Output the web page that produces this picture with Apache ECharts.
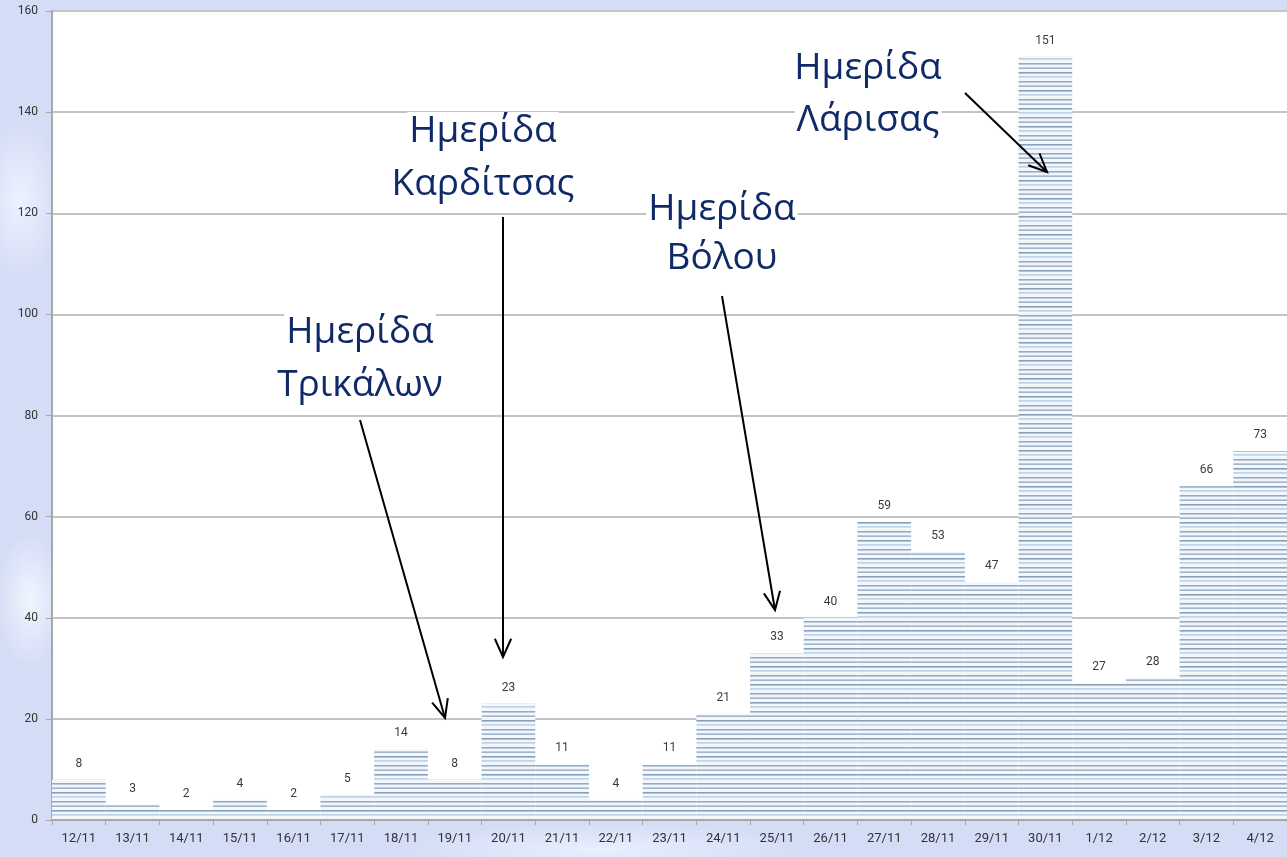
<!DOCTYPE html>
<html>
<head>
<meta charset="utf-8">
<script src="https://cdn.jsdelivr.net/npm/echarts@6/dist/echarts.min.js"></script>
<style>
html,body{margin:0;padding:0;width:1287px;height:857px;overflow:hidden;
background:
 radial-gradient(ellipse 60px 120px at 20px 200px, rgba(240,244,255,0.9), rgba(240,244,255,0) 70%),
 radial-gradient(ellipse 50px 100px at 30px 600px, rgba(245,248,255,0.9), rgba(245,248,255,0) 70%),
 radial-gradient(ellipse 300px 40px at 600px 850px, rgba(240,244,255,0.8), rgba(240,244,255,0) 70%),
 #d4dcf6;}
#c{width:1287px;height:857px;}
</style>
</head>
<body>
<div id="c"></div>
<script>
const categories = ['12/11','13/11','14/11','15/11','16/11','17/11','18/11','19/11','20/11','21/11','22/11','23/11','24/11','25/11','26/11','27/11','28/11','29/11','30/11','1/12','2/12','3/12','4/12'];
const visits = [8,3,2,4,2,5,14,8,23,11,4,11,21,33,40,59,53,47,151,27,28,66,73];
const yTicks = {min:0, max:160, interval:20};
const notes = [
  {lines:['Ημερίδα','Τρικάλων'], x:360, y:[332,385], from:[360,420], to:[445,718]},
  {lines:['Ημερίδα','Καρδίτσας'], x:483, y:[131,184], from:[503,217], to:[503,657]},
  {lines:['Ημερίδα','Βόλου'], x:722, y:[209,258], from:[722,296], to:[775,610]},
  {lines:['Ημερίδα','Λάρισας'], x:868, y:[68,120], from:[965,93], to:[1047,172]}
];

// striped pattern
const pc = document.createElement('canvas');
pc.width = 8; pc.height = 18;
const g = pc.getContext('2d');
g.fillStyle = '#f3f7fb'; g.fillRect(0,0,8,18);
const rows = [[0,'#8aa0b6'],[1,'#b0c2d4'],[4,'#bcd3ec'],[5,'#d0deeb'],[9,'#95abc1'],[10,'#bccbdb'],[13,'#b4cfeb'],[14,'#a2b7cb']];
rows.forEach(r => { g.fillStyle = r[1]; g.fillRect(0, r[0], 8, 1); });

const chart = echarts.init(document.getElementById('c'), null, {renderer:'canvas'});

const graphics = [];
notes.forEach(n => {
  const [x1,y1] = n.from, [x2,y2] = n.to;
  graphics.push({type:'line', shape:{x1,y1,x2,y2}, style:{stroke:'#000', lineWidth:2}, z:100});
  const ang = Math.atan2(y2-y1, x2-x1), L = 20, A = 0.42;
  graphics.push({type:'polyline', shape:{points:[
    [x2 - L*Math.cos(ang-A), y2 - L*Math.sin(ang-A)], [x2,y2],
    [x2 - L*Math.cos(ang+A), y2 - L*Math.sin(ang+A)]]},
    style:{stroke:'#000', lineWidth:2, fill:null}, z:100});
  n.lines.forEach((t, i) => {
    graphics.push({type:'text', x:n.x, y:n.y[i], z:101, style:{
      text:t, font:'37px "Open Sans"', fill:'#102a68', align:'center', verticalAlign:'middle',
      lineHeight:38, backgroundColor:'#ffffff', padding:[0,2]}});
  });
});

chart.setOption({
  animation:false,
  backgroundColor:'transparent',
  grid:{left:52, right:0, top:11, bottom:37, show:true, backgroundColor:'#ffffff', borderWidth:0},
  xAxis:{
    type:'category', data:categories,
    axisLine:{lineStyle:{color:'#a8a8a8', width:2}},
    axisTick:{show:true, length:5, lineStyle:{color:'#a8a8a8'}},
    axisLabel:{color:'#333', fontSize:13, fontFamily:'Roboto', margin:12, interval:0}
  },
  yAxis:{
    type:'value', min:yTicks.min, max:yTicks.max, interval:yTicks.interval,
    axisLine:{show:true, lineStyle:{color:'#a8a8a8', width:2}},
    axisTick:{show:true, length:6, lineStyle:{color:'#a8a8a8'}},
    axisLabel:{color:'#333', fontSize:12, fontFamily:'Roboto', margin:14},
    splitLine:{lineStyle:{color:'#c4c4c4', width:2}}
  },
  series:[{
    type:'bar', data:visits, barCategoryGap:0,
    itemStyle:{color:{image:pc, repeat:'repeat'}},
    label:{show:true, position:'top', distance:10, color:'#3a3a3a', fontSize:12, fontFamily:'Roboto'}
  }],
  graphic:graphics
});
</script>
</body>
</html>
